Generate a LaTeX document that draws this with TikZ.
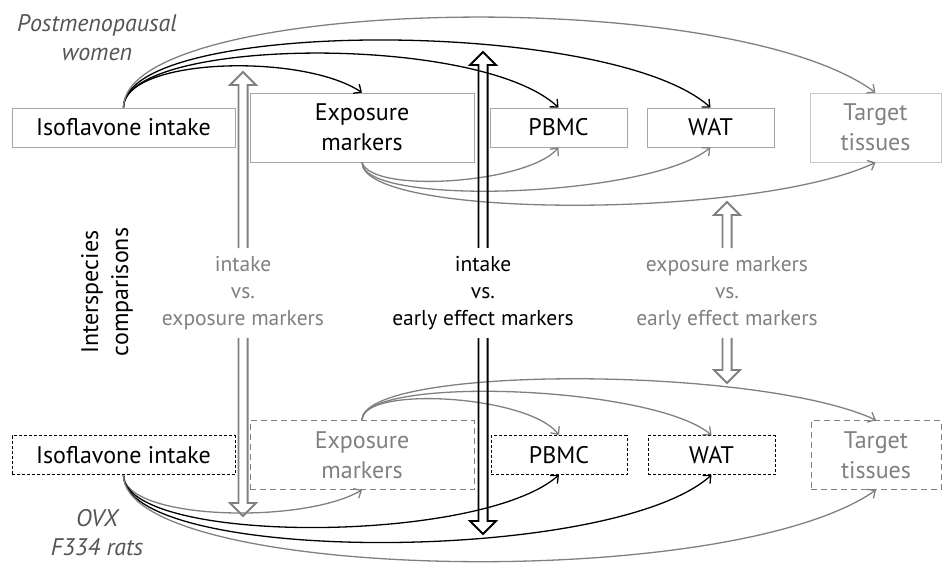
\documentclass[tikz,border=0pt]{standalone}
\usepackage{fontspec}
\setmainfont{PT Sans}
\usetikzlibrary{arrows.meta, positioning, calc}
\definecolor{softgray}{RGB}{128,128,128}
\definecolor{darkgray}{RGB}{85,85,85}
\definecolor{edgegray}{RGB}{165,165,165}
\definecolor{palegray}{RGB}{200,200,200}

\begin{document}
\begin{tikzpicture}[x=1pt, y=-1pt,
    box/.style={draw=edgegray, line width=0.8pt, minimum height=39pt, inner sep=0pt,
        align=center, font=\fontsize{24}{30}\selectfont},
    tallbox/.style={box, minimum height=69pt},
    ratbox/.style={draw=black, dash pattern=on 3pt off 2pt},
    fadebox/.style={draw=softgray, text=softgray, dash pattern=on 6pt off 4pt},
    link/.style={line width=1.3pt, -{Straight Barb[length=6pt,width=11pt]}},
    greylink/.style={link, draw=softgray},
    cmpline/.style={line width=1.8pt, line join=miter},
    cmptext/.style={align=center, font=\fontsize{21.5}{27}\selectfont, inner ysep=8pt},
    sidetext/.style={align=center, font=\fontsize{24}{30}\selectfont},
    casetext/.style={sidetext, text=darkgray, font=\fontsize{24}{29}\selectfont\itshape}]
    \useasboundingbox (0,0) rectangle (942,565);

    % Draw the boxes for the women
    \node[box, minimum width=223pt] (isoW) at (123.5,127.5) {Isoflavone intake};
    \node[tallbox, minimum width=224pt] (expW) at (362,127.5) {Exposure\\markers};
    \node[box, minimum width=137pt] (pbmcW) at (558.5,127.5) {PBMC};
    \node[box, minimum width=127pt] (watW) at (710.5,127.5) {WAT};
    \node[tallbox, minimum width=131pt, draw=palegray, text=softgray] (tgtW) at (875.5,127.5) {Target\\tissues};

    % Draw the boxes for the rats
    \node[box, ratbox, minimum width=223pt] (isoR) at (123.5,455) {Isoflavone intake};
    \node[tallbox, fadebox, minimum width=224pt] (expR) at (362,455) {Exposure\\markers};
    \node[box, ratbox, minimum width=136pt] (pbmcR) at (559,455) {PBMC};
    \node[box, ratbox, minimum width=127pt] (watR) at (711.5,455) {WAT};
    \node[tallbox, fadebox, minimum width=130pt] (tgtR) at (876,455) {Target\\tissues};

    % Draw the links above and below the women
    \draw[link] (isoW.north) .. controls +(0,-50) and +(-60,-40) .. (expW.north);
    \draw[link] (isoW.north) .. controls +(0,-70) and +(-80,-75) .. (pbmcW.north);
    \draw[link] (isoW.north) .. controls +(0,-90) and +(-100,-90) .. (watW.north);
    \draw[greylink] (isoW.north) .. controls +(0,-110) and +(-150,-110) .. (tgtW.north);
    \draw[greylink] (expW.south) .. controls +(10,32) and +(-30,36) .. (pbmcW.south);
    \draw[greylink] (expW.south) .. controls +(0,45) and +(-60,50) .. (watW.south);
    \draw[greylink] (expW.south) .. controls +(0,57) and +(-120,57) .. (tgtW.south);

    % Draw the links above and below the rats
    \draw[greylink] (expR.north) .. controls +(0,-35) and +(-30,-40) .. (pbmcR.north);
    \draw[greylink] (expR.north) .. controls +(0,-45) and +(-60,-50) .. (watR.north);
    \draw[greylink] (expR.north) .. controls +(0,-55) and +(-120,-55) .. (tgtR.north);
    \draw[greylink] (isoR.south) .. controls +(0,45) and +(-60,35) .. (expR.south);
    \draw[link] (isoR.south) .. controls +(0,70) and +(-80,70) .. (pbmcR.south);
    \draw[link] (isoR.south) .. controls +(0,90) and +(-100,90) .. (watR.south);
    \draw[greylink] (isoR.south) .. controls +(0,105) and +(-150,105) .. (tgtR.south);

    % Draw the interspecies comparisons
    \node[cmptext, text=softgray] (cmpA) at (243,293) {intake\\vs.\\exposure markers};
    \node[cmptext] (cmpB) at (483,293) {intake\\vs.\\early effect markers};
    \node[cmptext, text=softgray] (cmpC) at (727,293) {exposure markers\\vs.\\early effect markers};
    \coordinate (cmpAtop) at (243,72);
    \coordinate (cmpAbot) at (243,516);
    \coordinate (cmpBtop) at (483,52);
    \coordinate (cmpBbot) at (483,534);
    \coordinate (cmpCtop) at (727,202);
    \coordinate (cmpCbot) at (727,383);
    % hollow double arrows: shaft from the text, open head at the tip
    \foreach \from/\tip/\dir/\col in {cmpA.north/cmpAtop/1/softgray, cmpA.south/cmpAbot/-1/softgray,
        cmpB.north/cmpBtop/1/black, cmpB.south/cmpBbot/-1/black,
        cmpC.north/cmpCtop/1/softgray, cmpC.south/cmpCbot/-1/softgray}
        \draw[cmpline, draw=\col] ($(\from)+(-4.6,0)$) -- ($(\tip)+(-4.6,13*\dir)$) -- ++(-8.4,0)
            -- (\tip) -- ++(13,13*\dir) -- ++(-8.4,0) -- ($(\from)+(4.6,0)$);

    % Labels
    \node[casetext] (women) at (97,38) {Postmenopausal\\women};
    \node[casetext] (rats) at (97,533) {OVX\\F334 rats};
    \node[sidetext, rotate=90] (inter) at (107,292) {Interspecies\\comparisons};
\end{tikzpicture}
\end{document}
